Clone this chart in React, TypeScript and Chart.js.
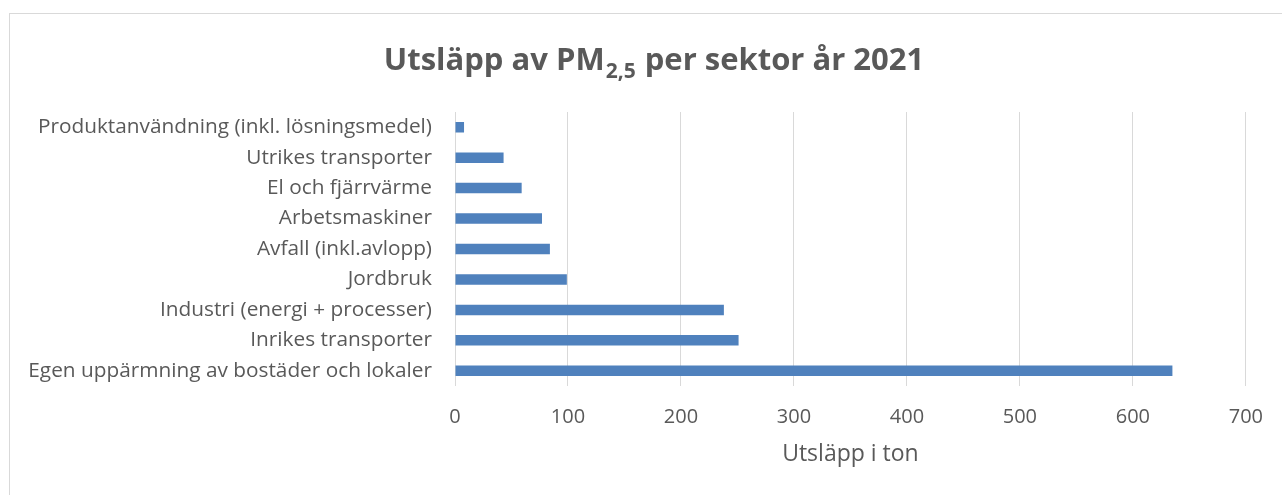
import React, { useEffect, useRef } from "react";
import { Chart, registerables } from "chart.js";

Chart.register(...registerables);

const categories = [
  "Produktanvändning (inkl. lösningsmedel)",
  "Utrikes transporter",
  "El och fjärrvärme",
  "Arbetsmaskiner",
  "Avfall (inkl.avlopp)",
  "Jordbruk",
  "Industri (energi + processer)",
  "Inrikes transporter",
  "Egen uppärmning av bostäder och lokaler",
];
const emissions = [8, 43, 59, 77, 84, 99, 238, 251, 635];
const xTicks = [0, 100, 200, 300, 400, 500, 600, 700];
const titleMain = "Utsläpp av PM";
const titleSub = "2,5";
const titleRest = " per sektor år 2021";
const xAxisTitle = "Utsläpp i ton";

const FONT = "'Open Sans', 'Noto Sans', sans-serif";
const GRAY = "#595959";

const titlePlugin = {
  id: "subTitle",
  afterDraw(chart: any) {
    const ctx = chart.ctx;
    ctx.save();
    const big = `bold 31px ${FONT}`;
    const small = `bold 21px ${FONT}`;
    ctx.font = big;
    const w1 = ctx.measureText(titleMain).width;
    const w3 = ctx.measureText(titleRest).width;
    ctx.font = small;
    const w2 = ctx.measureText(titleSub).width;
    const total = w1 + w2 + w3;
    let x = 653 - total / 2;
    const baseline = 70;
    ctx.fillStyle = GRAY;
    ctx.textBaseline = "alphabetic";
    ctx.textAlign = "left";
    ctx.font = big;
    ctx.fillText(titleMain, x, baseline);
    x += w1;
    ctx.font = small;
    ctx.fillText(titleSub, x + 1, baseline + 8);
    x += w2 + 2;
    ctx.font = big;
    ctx.fillText(titleRest, x, baseline);
    ctx.restore();
  },
};

export default function App() {
  const ref = useRef<HTMLCanvasElement | null>(null);
  useEffect(() => {
    if (!ref.current) return;
    const chart = new Chart(ref.current, {
      type: "bar",
      data: {
        labels: categories,
        datasets: [
          {
            data: emissions,
            backgroundColor: "#4f81bd",
            borderWidth: 0,
            barPercentage: 0.345,
            categoryPercentage: 1,
          },
        ],
      },
      options: {
        indexAxis: "y",
        responsive: false,
        animation: false,
        layout: { padding: { top: 112, right: 34, left: 0, bottom: 0 } },
        plugins: {
          legend: { display: false },
          tooltip: { enabled: false },
          title: { display: false },
        },
        scales: {
          x: {
            min: 0,
            max: 700,
            afterBuildTicks: (scale: any) => {
              scale.ticks = xTicks.map((v) => ({ value: v }));
            },
            afterFit: (scale: any) => {
              scale.height = 109;
            },
            grid: { color: "#d9d9d9", lineWidth: 1, drawTicks: false },
            border: { display: false },
            ticks: {
              color: GRAY,
              font: { family: FONT, size: 20 },
              padding: 19,
              maxRotation: 0,
            },
            title: {
              display: true,
              text: xAxisTitle,
              color: GRAY,
              font: { family: FONT, size: 23 },
              padding: { top: 0, bottom: 27 },
            },
          },
          y: {
            afterFit: (scale: any) => {
              scale.width = 455;
            },
            grid: { display: false, drawTicks: false },
            border: { display: false },
            ticks: {
              color: GRAY,
              font: { family: FONT, size: 20.8 },
              padding: 23,
              autoSkip: false,
            },
          },
        },
      },
      plugins: [titlePlugin],
    });
    return () => chart.destroy();
  }, []);

  return (
    <div
      style={{
        position: "fixed",
        left: 0,
        top: 0,
        width: 1282,
        height: 495,
        background: "#fff",
        overflow: "hidden",
      }}
    >
      <canvas ref={ref} width={1282} height={495} style={{ display: "block" }} />
      <div
        style={{
          position: "absolute",
          left: 9,
          top: 13,
          width: 1400,
          height: 600,
          borderTop: "1px solid #d9d9d9",
          borderLeft: "1px solid #d9d9d9",
          pointerEvents: "none",
        }}
      />
    </div>
  );
}
